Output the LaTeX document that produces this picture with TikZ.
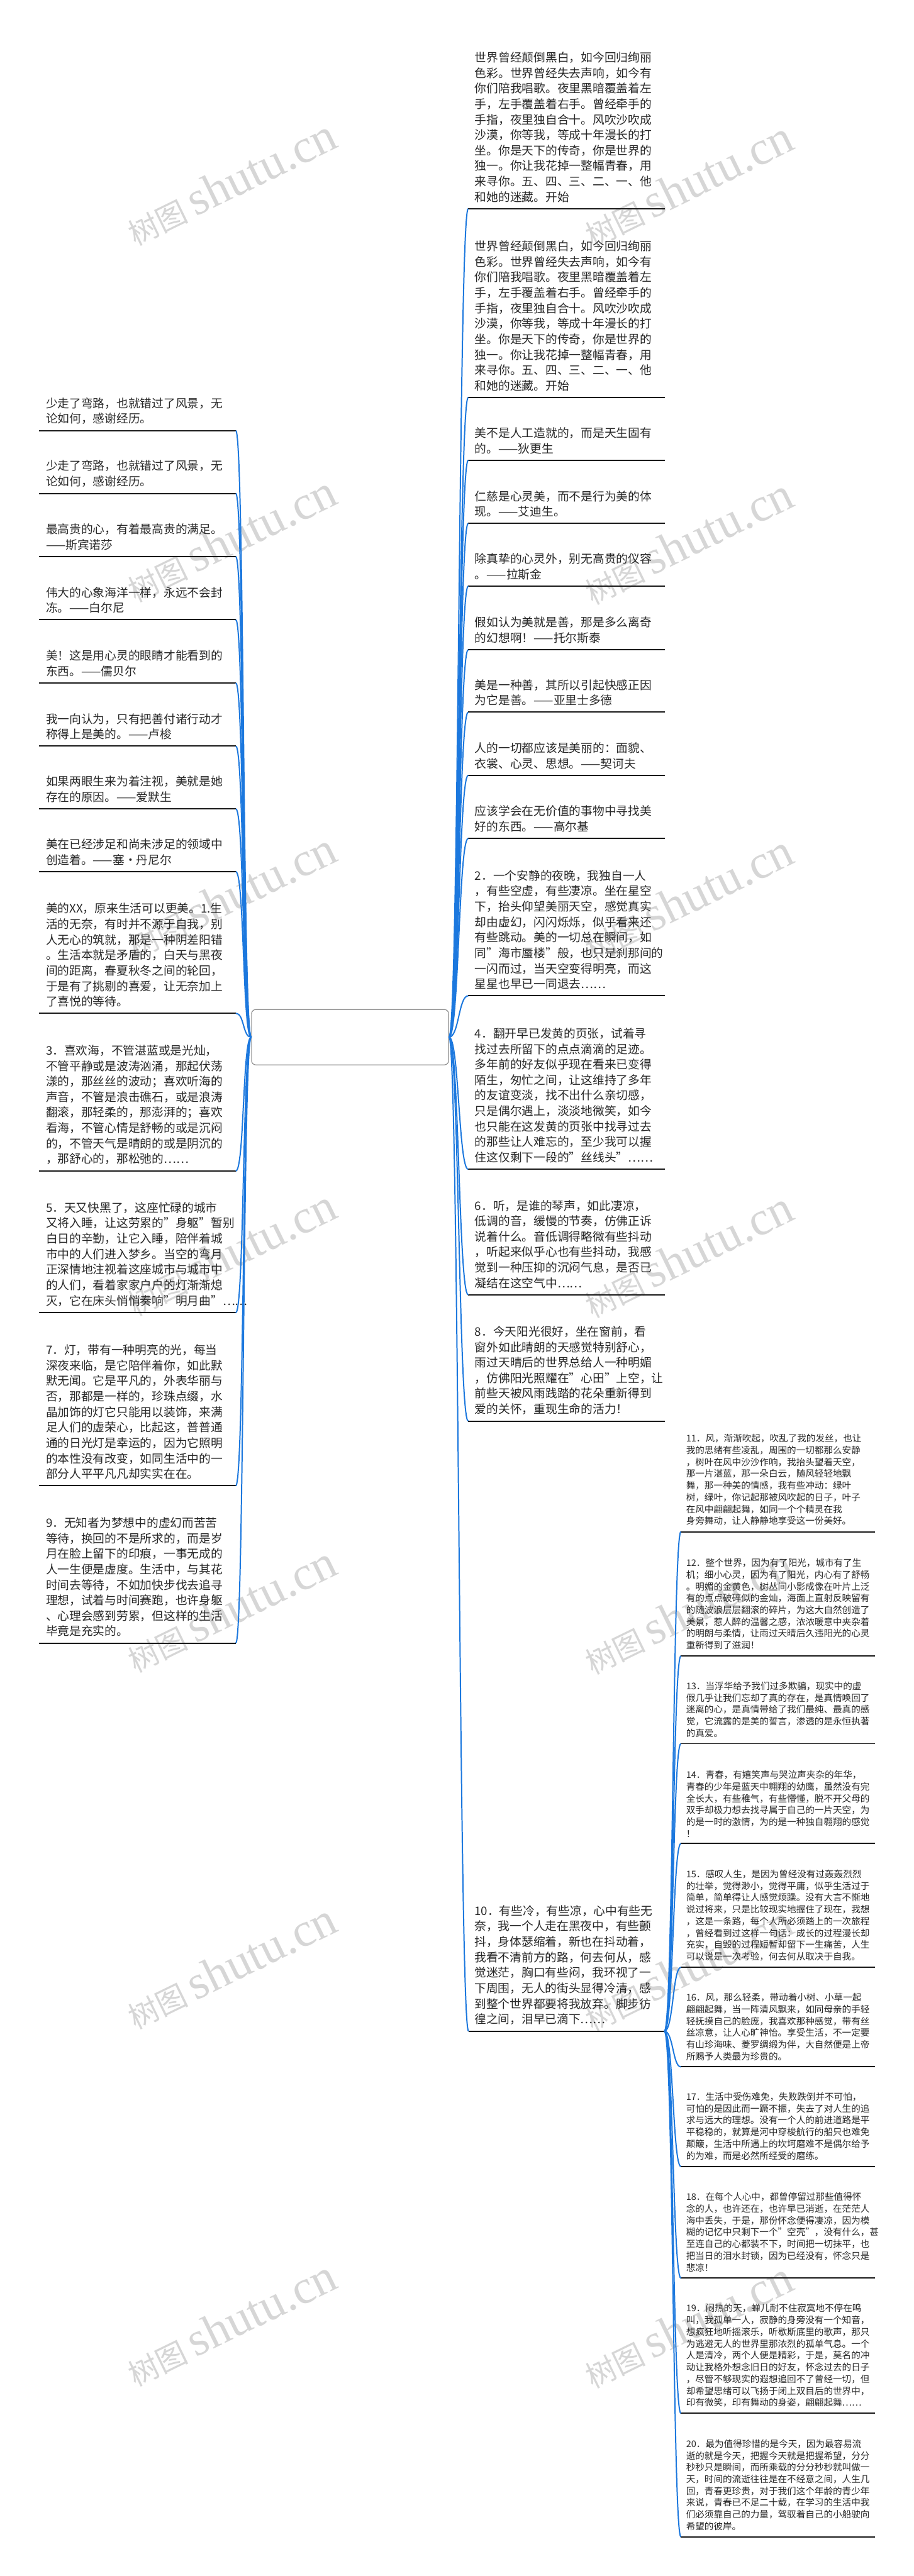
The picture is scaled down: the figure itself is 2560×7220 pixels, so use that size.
\documentclass[tikz,border=0pt]{standalone}
\usepackage{fontspec}
\setmainfont{Noto Sans CJK SC}
\newfontfamily\wmserif{Liberation Serif}
\usetikzlibrary{positioning}
\definecolor{linkblue}{RGB}{28,120,222}
\definecolor{inkgray}{RGB}{40,40,40}
\definecolor{wmgray}{RGB}{214,214,214}

\begin{document}
\begin{tikzpicture}[
    x=0.01cm, y=-0.01cm,
    leaf/.style={anchor=south west, inner xsep=0.18cm, inner ysep=0.17cm, text width=5.13cm,
      align=left, text=inkgray, font=\fontsize{9.39pt}{12.35pt}\selectfont},
    leafs/.style={leaf, inner xsep=0.14cm, text width=5.14cm, font=\fontsize{7.31pt}{9.39pt}\selectfont},
    hub/.style={draw=black!45, line width=0.02cm, rounded corners=0.12cm, fill=white,
      minimum width=5.52cm, minimum height=1.55cm, inner sep=0pt},
    uline/.style={line width=0.035cm, black!90},
    link/.style={line width=0.035cm, linkblue},
    wm/.style={anchor=base west, rotate=26, inner sep=0pt, text=wmgray, font=\fontsize{24pt}{26pt}\selectfont}
  ]
  \fill[white] (0,0) rectangle (2560,7220);
  \useasboundingbox (0,0) rectangle (2560,7220);

  % watermarks
  \foreach \k in {0,...,6} {
    \node[wm] at (380,690+1000*\k) {树图 {\wmserif\fontsize{38pt}{40pt}\selectfont shutu.cn}};
    \node[wm] at (1660,696+1000*\k) {树图 {\wmserif\fontsize{38pt}{40pt}\selectfont shutu.cn}};
  }

  % root
  \node[hub] (root) at (981,2907) {};

  % right side
  \node[leaf] (rA) at (1312,585) {世界曾经颠倒黑白，如今回归绚丽\\色彩。世界曾经失去声响，如今有\\你们陪我唱歌。夜里黑暗覆盖着左\\手，左手覆盖着右手。曾经牵手的\\手指，夜里独自合十。风吹沙吹成\\沙漠，你等我，等成十年漫长的打\\坐。你是天下的传奇，你是世界的\\独一。你让我花掉一整幅青春，用\\来寻你。五、四、三、二、一、他\\和她的迷藏。开始};
  \node[leaf] (rB) at (1312,1114) {世界曾经颠倒黑白，如今回归绚丽\\色彩。世界曾经失去声响，如今有\\你们陪我唱歌。夜里黑暗覆盖着左\\手，左手覆盖着右手。曾经牵手的\\手指，夜里独自合十。风吹沙吹成\\沙漠，你等我，等成十年漫长的打\\坐。你是天下的传奇，你是世界的\\独一。你让我花掉一整幅青春，用\\来寻你。五、四、三、二、一、他\\和她的迷藏。开始};
  \node[leaf] (rC) at (1312,1290) {美不是人工造就的，而是天生固有\\的。——狄更生};
  \node[leaf] (rD) at (1312,1467) {仁慈是心灵美，而不是行为美的体\\现。——艾迪生。};
  \node[leaf] (rE) at (1312,1643) {除真挚的心灵外，别无高贵的仪容\\。——拉斯金};
  \node[leaf] (rF) at (1312,1821) {假如认为美就是善，那是多么离奇\\的幻想啊！——托尔斯泰};
  \node[leaf] (rG) at (1312,1996) {美是一种善，其所以引起快感正因\\为它是善。——亚里士多德};
  \node[leaf] (rH) at (1312,2173) {人的一切都应该是美丽的：面貌、\\衣裳、心灵、思想。——契诃夫};
  \node[leaf] (rI) at (1312,2350) {应该学会在无价值的事物中寻找美\\好的东西。——高尔基};
  \node[leaf] (r2) at (1312,2791) {2．一个安静的夜晚，我独自一人\\，有些空虚，有些凄凉。坐在星空\\下，抬头仰望美丽天空，感觉真实\\却由虚幻，闪闪烁烁，似乎看来还\\有些跳动。美的一切总在瞬间，如\\同"海市蜃楼"般，也只是刹那间的\\一闪而过，当天空变得明亮，而这\\星星也早已一同退去……};
  \node[leaf] (r4) at (1312,3277) {4．翻开早已发黄的页张，试着寻\\找过去所留下的点点滴滴的足迹。\\多年前的好友似乎现在看来已变得\\陌生，匆忙之间，让这维持了多年\\的友谊变淡，找不出什么亲切感，\\只是偶尔遇上，淡淡地微笑，如今\\也只能在这发黄的页张中找寻过去\\的那些让人难忘的，至少我可以握\\住这仅剩下一段的"丝线头"……};
  \node[leaf] (r6) at (1312,3629) {6．听，是谁的琴声，如此凄凉，\\低调的音，缓慢的节奏，仿佛正诉\\说着什么。音低调得略微有些抖动\\，听起来似乎心也有些抖动，我感\\觉到一种压抑的沉闷气息，是否已\\凝结在这空气中……};
  \node[leaf] (r8) at (1312,3983) {8．今天阳光很好，坐在窗前，看\\窗外如此晴朗的天感觉特别舒心，\\雨过天晴后的世界总给人一种明媚\\，仿佛阳光照耀在"心田"上空，让\\前些天被风雨践踏的花朵重新得到\\爱的关怀，重现生命的活力！};
  \node[leaf, inner xsep=0.16cm, text width=5.15cm] (r10) at (1313,5693) {10．有些冷，有些凉，心中有些无\\奈，我一个人走在黑夜中，有些颤\\抖，身体瑟缩着，新也在抖动着，\\我看不清前方的路，何去何从，感\\觉迷茫，胸口有些闷，我环视了一\\下周围，无人的街头显得冷清，感\\到整个世界都要将我放弃。脚步彷\\徨之间，泪早已滴下……};

  % left side
  \node[leaf] (lA) at (110,1207) {少走了弯路，也就错过了风景，无\\论如何，感谢经历。};
  \node[leaf] (lB) at (110,1383) {少走了弯路，也就错过了风景，无\\论如何，感谢经历。};
  \node[leaf] (lC) at (110,1560) {最高贵的心，有着最高贵的满足。\\——斯宾诺莎};
  \node[leaf] (lD) at (110,1737) {伟大的心象海洋一样，永远不会封\\冻。——白尔尼};
  \node[leaf] (lE) at (110,1914) {美！这是用心灵的眼睛才能看到的\\东西。——儒贝尔};
  \node[leaf] (lF) at (110,2091) {我一向认为，只有把善付诸行动才\\称得上是美的。——卢梭};
  \node[leaf] (lG) at (110,2267) {如果两眼生来为着注视，美就是她\\存在的原因。——爱默生};
  \node[leaf] (lH) at (110,2443) {美在已经涉足和尚未涉足的领域中\\创造着。——塞·丹尼尔};
  \node[leaf] (lI) at (110,2840) {美的XX，原来生活可以更美。1.生\\活的无奈，有时并不源于自我，别\\人无心的筑就，那是一种阴差阳错\\。生活本就是矛盾的，白天与黑夜\\间的距离，春夏秋冬之间的轮回，\\于是有了挑剔的喜爱，让无奈加上\\了喜悦的等待。};
  \node[leaf] (l3) at (110,3282) {3．喜欢海，不管湛蓝或是光灿，\\不管平静或是波涛汹涌，那起伏荡\\漾的，那丝丝的波动；喜欢听海的\\声音，不管是浪击礁石，或是浪涛\\翻滚，那轻柔的，那澎湃的；喜欢\\看海，不管心情是舒畅的或是沉闷\\的，不管天气是晴朗的或是阴沉的\\，那舒心的，那松弛的……};
  \node[leaf] (l5) at (110,3679) {5．天又快黑了，这座忙碌的城市\\又将入睡，让这劳累的"身躯"暂别\\白日的辛勤，让它入睡，陪伴着城\\市中的人们进入梦乡。当空的弯月\\正深情地注视着这座城市与城市中\\的人们，看着家家户户的灯渐渐熄\\灭，它在床头悄悄奏响"明月曲"……};
  \node[leaf] (l7) at (110,4164) {7．灯，带有一种明亮的光，每当\\深夜来临，是它陪伴着你，如此默\\默无闻。它是平凡的，外表华丽与\\否，那都是一样的，珍珠点缀，水\\晶加饰的灯它只能用以装饰，来满\\足人们的虚荣心，比起这，普普通\\通的日光灯是幸运的，因为它照明\\的本性没有改变，如同生活中的一\\部分人平平凡凡却实实在在。};
  \node[leaf] (l9) at (110,4605) {9．无知者为梦想中的虚幻而苦苦\\等待，换回的不是所求的，而是岁\\月在脸上留下的印痕，一事无成的\\人一生便是虚度。生活中，与其花\\时间去等待，不如加快步伐去追寻\\理想，试着与时间赛跑，也许身躯\\、心理会感到劳累，但这样的生活\\毕竟是充实的。};

  % children of 10
  \node[leafs] (c11) at (1908,4293) {11．风，渐渐吹起，吹乱了我的发丝，也让\\我的思绪有些凌乱，周围的一切都那么安静\\，树叶在风中沙沙作响，我抬头望着天空，\\那一片湛蓝，那一朵白云，随风轻轻地飘\\舞，那一种美的情感，我有些冲动：绿叶\\树，绿叶，你记起那被风吹起的日子，叶子\\在风中翩翩起舞，如同一个个精灵在我\\身旁舞动，让人静静地享受这一份美好。};
  \node[leafs] (c12) at (1908,4641) {12．整个世界，因为有了阳光，城市有了生\\机；细小心灵，因为有了阳光，内心有了舒畅\\。明媚的金黄色，树丛间小影成像在叶片上泛\\有的点点破碎似的金灿，海面上直射反映留有\\的随波浪层层翻滚的碎片，为这大自然创造了\\美景，惹人醉的温馨之感，浓浓暖意中夹杂着\\的明朗与柔情，让雨过天晴后久违阳光的心灵\\重新得到了滋润！};
  \node[leafs] (c13) at (1908,4887) {13．当浮华给予我们过多欺骗，现实中的虚\\假几乎让我们忘却了真的存在，是真情唤回了\\迷离的心，是真情带给了我们最纯、最真的感\\觉，它流露的是美的誓言，渗透的是永恒执著\\的真爱。};
  \node[leafs] (c14) at (1908,5167) {14．青春，有嬉笑声与哭泣声夹杂的年华，\\青春的少年是蓝天中翱翔的幼鹰，虽然没有完\\全长大，有些稚气，有些懵懂，脱不开父母的\\双手却极力想去找寻属于自己的一片天空，为\\的是一时的激情，为的是一种独自翱翔的感觉\\！};
  \node[leafs] (c15) at (1908,5514) {15．感叹人生，是因为曾经没有过轰轰烈烈\\的壮举，觉得渺小，觉得平庸，似乎生活过于\\简单，简单得让人感觉烦躁。没有大言不惭地\\说过将来，只是比较现实地握住了现在，我想\\，这是一条路，每个人所必须踏上的一次旅程\\，曾经看到过这样一句话：成长的过程漫长却\\充实，自毁的过程短暂却留下一生痛苦，人生\\可以说是一次考验，何去何从取决于自我。};
  \node[leafs] (c16) at (1908,5793) {16．风，那么轻柔，带动着小树、小草一起\\翩翩起舞，当一阵清风飘来，如同母亲的手轻\\轻抚摸自己的脸庞，我喜欢那种感觉，带有丝\\丝凉意，让人心旷神怡。享受生活，不一定要\\有山珍海味、菱罗绸缎为伴，大自然便是上帝\\所赐予人类最为珍贵的。};
  \node[leafs] (c17) at (1908,6072) {17．生活中受伤难免，失败跌倒并不可怕，\\可怕的是因此而一蹶不振，失去了对人生的追\\求与远大的理想。没有一个人的前进道路是平\\平稳稳的，就算是河中穿梭航行的船只也难免\\颠簸，生活中所遇上的坎坷磨难不是偶尔给予\\的为难，而是必然所经受的磨练。};
  \node[leafs] (c18) at (1908,6385) {18．在每个人心中，都曾停留过那些值得怀\\念的人，也许还在，也许早已消逝，在茫茫人\\海中丢失，于是，那份怀念便得凄凉，因为模\\糊的记忆中只剩下一个"空壳"，没有什么，甚\\至连自己的心都装不下，时间把一切抹平，也\\把当日的泪水封锁，因为已经没有，怀念只是\\悲凉！};
  \node[leafs] (c19) at (1908,6764) {19．闷热的天，蝉儿耐不住寂寞地不停在鸣\\叫，我孤单一人，寂静的身旁没有一个知音，\\想疯狂地听摇滚乐，听歇斯底里的歌声，那只\\为逃避无人的世界里那浓烈的孤单气息。一个\\人是清冷，两个人便是精彩，于是，莫名的冲\\动让我格外想念旧日的好友，怀念过去的日子\\，尽管不够现实的遐想追回不了曾经一切，但\\却希望思绪可以飞扬于闭上双目后的世界中，\\印有微笑，印有舞动的身姿，翩翩起舞……};
  \node[leafs] (c20) at (1908,7110) {20．最为值得珍惜的是今天，因为最容易流\\逝的就是今天，把握今天就是把握希望，分分\\秒秒只是瞬间，而所乘载的分分秒秒就叫做一\\天，时间的流逝往往是在不经意之间，人生几\\回，青春更珍贵，对于我们这个年龄的青少年\\来说，青春已不足二十载，在学习的生活中我\\们必须靠自己的力量，驾驭着自己的小船驶向\\希望的彼岸。};

  % underlines and connectors
  \foreach \n in {rA,rB,rC,rD,rE,rF,rG,rH,rI,r2,r4,r6,r8,r10,
                  lA,lB,lC,lD,lE,lF,lG,lH,lI,l3,l5,l7,l9,
                  c11,c12,c13,c14,c15,c16,c17,c18,c19,c20}
    \draw[uline] (\n.south west) -- (\n.south east);
  \foreach \n in {rA,rB,rC,rD,rE,rF,rG,rH,rI,r2,r4,r6,r8,r10}
    \draw[link] (root.east) .. controls +(28,0) and +(-27,0) .. (\n.south west);
  \foreach \n in {lA,lB,lC,lD,lE,lF,lG,lH,lI,l3,l5,l7,l9}
    \draw[link] (root.west) .. controls +(-24,0) and +(24,0) .. (\n.south east);
  \foreach \n in {c11,c12,c13,c14,c15,c16,c17,c18,c19,c20}
    \draw[link] (r10.south east) .. controls +(25,0) and +(-23,0) .. (\n.south west);
\end{tikzpicture}
\end{document}
